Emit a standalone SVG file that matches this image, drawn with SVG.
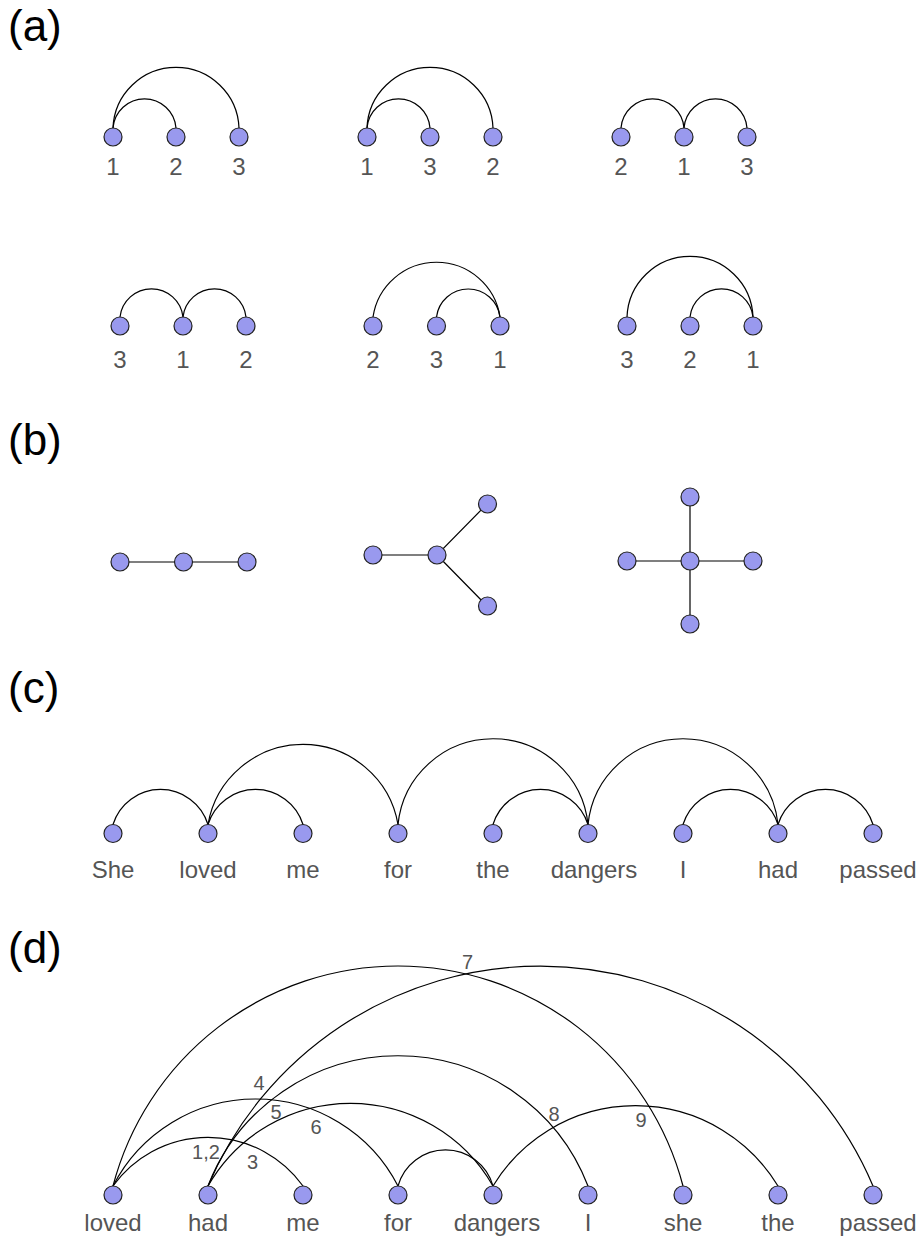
<svg xmlns="http://www.w3.org/2000/svg" width="922" height="1239" viewBox="0 0 922 1239">
<style>
.sec{font-family:"Liberation Sans",Arial,sans-serif;font-size:44px;fill:#000}
.lbl{font-family:"Liberation Sans",Arial,sans-serif;font-size:24px;fill:#555;text-anchor:middle}
.num{font-family:"Liberation Sans",Arial,sans-serif;font-size:20px;fill:#555;text-anchor:middle}
.n{fill:#9999ee;stroke:#222;stroke-width:1.2}
.e{fill:none;stroke:#000;stroke-width:1.2}
</style>
<rect width="922" height="1239" fill="#fff"/>
<text class="sec" x="8" y="41">(a)</text>
<text class="sec" x="8" y="455">(b)</text>
<text class="sec" x="8" y="703">(c)</text>
<text class="sec" x="8" y="963">(d)</text>

<g id="connectors">
<!-- (a) row 1 -->
<path class="e" d="M113 128 A31.6 31.6 0 0 1 176 128"/>
<path class="e" d="M113 128 A63.05 63.05 0 0 1 239 128"/>
<path class="e" d="M367 128 A31.6 31.6 0 0 1 430 128"/>
<path class="e" d="M367 128 A63.05 63.05 0 0 1 493 128"/>
<path class="e" d="M621 128 A31.6 31.6 0 0 1 684 128"/>
<path class="e" d="M684 128 A31.6 31.6 0 0 1 747 128"/>
<!-- (a) row 2 -->
<path class="e" d="M120 317 A31.7 31.7 0 0 1 183 317"/>
<path class="e" d="M183 317 A31.7 31.7 0 0 1 246 317"/>
<path class="e" d="M373 317 A64.2 64.2 0 0 1 500 317"/>
<path class="e" d="M436.5 317 A32 32 0 0 1 500 317"/>
<path class="e" d="M627 317 A63.05 63.05 0 0 1 753 317"/>
<path class="e" d="M690 317 A31.7 31.7 0 0 1 753 317"/>
<!-- (b) -->
<path class="e" d="M120 562 H247"/>
<path class="e" d="M373 555 H437 L487 504 M437 555 L487 606"/>
<path class="e" d="M627 561 H753 M690 497 V624"/>
<!-- (c) -->
<path class="e" d="M113 824.5 A49.7 49.7 0 0 1 208 824.5"/>
<path class="e" d="M208 824.5 A49.7 49.7 0 0 1 303 824.5"/>
<path class="e" d="M208 824.5 A96.4 96.4 0 0 1 398 824.5"/>
<path class="e" d="M398 824.5 A95.5 95.5 0 0 1 588 824.5"/>
<path class="e" d="M493 824.5 A49.7 49.7 0 0 1 588 824.5"/>
<path class="e" d="M588 824.5 A95.5 95.5 0 0 1 778 824.5"/>
<path class="e" d="M683 824.5 A49.7 49.7 0 0 1 778 824.5"/>
<path class="e" d="M778 824.5 A49.7 49.7 0 0 1 873 824.5"/>
<!-- (d) -->
<path class="e" d="M113 1186 A117 117 0 0 1 303 1186"/>
<path class="e" d="M113 1186 A160.2 160.2 0 0 1 398 1186"/>
<path class="e" d="M113 1186 A294.6 294.6 0 0 1 683 1186"/>
<path class="e" d="M208 1186 A164.1 164.1 0 0 1 493 1186"/>
<path class="e" d="M208 1186 A203.7 203.7 0 0 1 588 1186"/>
<path class="e" d="M208 1186 A361.3 361.3 0 0 1 873 1186"/>
<path class="e" d="M398 1186 A49.3 49.3 0 0 1 493 1186"/>
<path class="e" d="M493 1186 A166.6 166.6 0 0 1 778 1186"/>
</g>

<g id="a-row1-g1">
<circle class="n" cx="113" cy="137" r="9"/><circle class="n" cx="176" cy="137" r="9"/><circle class="n" cx="239" cy="137" r="9"/>
<text class="lbl" x="113" y="175">1</text><text class="lbl" x="176" y="175">2</text><text class="lbl" x="239" y="175">3</text>
</g>
<g id="a-row1-g2">
<circle class="n" cx="367" cy="137" r="9"/><circle class="n" cx="430" cy="137" r="9"/><circle class="n" cx="493" cy="137" r="9"/>
<text class="lbl" x="367" y="175">1</text><text class="lbl" x="430" y="175">3</text><text class="lbl" x="493" y="175">2</text>
</g>
<g id="a-row1-g3">
<circle class="n" cx="621" cy="137" r="9"/><circle class="n" cx="684" cy="137" r="9"/><circle class="n" cx="747" cy="137" r="9"/>
<text class="lbl" x="621" y="175">2</text><text class="lbl" x="684" y="175">1</text><text class="lbl" x="747" y="175">3</text>
</g>
<g id="a-row2-g1">
<circle class="n" cx="120" cy="326" r="9"/><circle class="n" cx="183" cy="326" r="9"/><circle class="n" cx="246" cy="326" r="9"/>
<text class="lbl" x="120" y="368">3</text><text class="lbl" x="183" y="368">1</text><text class="lbl" x="246" y="368">2</text>
</g>
<g id="a-row2-g2">
<circle class="n" cx="373" cy="326" r="9"/><circle class="n" cx="436.5" cy="326" r="9"/><circle class="n" cx="500" cy="326" r="9"/>
<text class="lbl" x="373" y="368">2</text><text class="lbl" x="436.5" y="368">3</text><text class="lbl" x="500" y="368">1</text>
</g>
<g id="a-row2-g3">
<circle class="n" cx="627" cy="326" r="9"/><circle class="n" cx="690" cy="326" r="9"/><circle class="n" cx="753" cy="326" r="9"/>
<text class="lbl" x="627" y="368">3</text><text class="lbl" x="690" y="368">2</text><text class="lbl" x="753" y="368">1</text>
</g>

<g id="b-chain">
<circle class="n" cx="120" cy="562" r="9"/><circle class="n" cx="183.5" cy="562" r="9"/><circle class="n" cx="247" cy="562" r="9"/>
</g>
<g id="b-star3">
<circle class="n" cx="373" cy="555" r="9"/><circle class="n" cx="437" cy="555" r="9"/><circle class="n" cx="487.5" cy="504" r="9"/><circle class="n" cx="487.5" cy="606" r="9"/>
</g>
<g id="b-star4">
<circle class="n" cx="690" cy="561" r="9"/><circle class="n" cx="627" cy="561" r="9"/><circle class="n" cx="753" cy="561" r="9"/><circle class="n" cx="690" cy="497" r="9"/><circle class="n" cx="690" cy="624" r="9"/>
</g>

<g id="c-She"><circle class="n" cx="113" cy="833.5" r="9"/><text class="lbl" x="113" y="878">She</text></g>
<g id="c-loved"><circle class="n" cx="208" cy="833.5" r="9"/><text class="lbl" x="208" y="878">loved</text></g>
<g id="c-me"><circle class="n" cx="303" cy="833.5" r="9"/><text class="lbl" x="303" y="878">me</text></g>
<g id="c-for"><circle class="n" cx="398" cy="833.5" r="9"/><text class="lbl" x="398" y="878">for</text></g>
<g id="c-the"><circle class="n" cx="493" cy="833.5" r="9"/><text class="lbl" x="493" y="878">the</text></g>
<g id="c-dangers"><circle class="n" cx="588" cy="833.5" r="9"/><text class="lbl" x="594" y="878">dangers</text></g>
<g id="c-I"><circle class="n" cx="683" cy="833.5" r="9"/><text class="lbl" x="683" y="878">I</text></g>
<g id="c-had"><circle class="n" cx="778" cy="833.5" r="9"/><text class="lbl" x="778" y="878">had</text></g>
<g id="c-passed"><circle class="n" cx="873" cy="833.5" r="9"/><text class="lbl" x="878" y="878">passed</text></g>

<g id="d-loved"><circle class="n" cx="113" cy="1195" r="9"/><text class="lbl" x="113" y="1231">loved</text></g>
<g id="d-had"><circle class="n" cx="208" cy="1195" r="9"/><text class="lbl" x="208" y="1231">had</text></g>
<g id="d-me"><circle class="n" cx="303" cy="1195" r="9"/><text class="lbl" x="303" y="1231">me</text></g>
<g id="d-for"><circle class="n" cx="398" cy="1195" r="9"/><text class="lbl" x="398" y="1231">for</text></g>
<g id="d-dangers"><circle class="n" cx="493" cy="1195" r="9"/><text class="lbl" x="497" y="1231">dangers</text></g>
<g id="d-I"><circle class="n" cx="588" cy="1195" r="9"/><text class="lbl" x="588" y="1231">I</text></g>
<g id="d-she"><circle class="n" cx="683" cy="1195" r="9"/><text class="lbl" x="683" y="1231">she</text></g>
<g id="d-the"><circle class="n" cx="778" cy="1195" r="9"/><text class="lbl" x="778" y="1231">the</text></g>
<g id="d-passed"><circle class="n" cx="873" cy="1195" r="9"/><text class="lbl" x="878" y="1231">passed</text></g>

<g id="crossing-numbers">
<text class="num" x="467.5" y="969">7</text>
<text class="num" x="259" y="1090">4</text>
<text class="num" x="276" y="1119">5</text>
<text class="num" x="316" y="1134">6</text>
<text class="num" x="206" y="1159">1,2</text>
<text class="num" x="252.5" y="1169">3</text>
<text class="num" x="554" y="1121">8</text>
<text class="num" x="641" y="1127">9</text>
</g>
</svg>
